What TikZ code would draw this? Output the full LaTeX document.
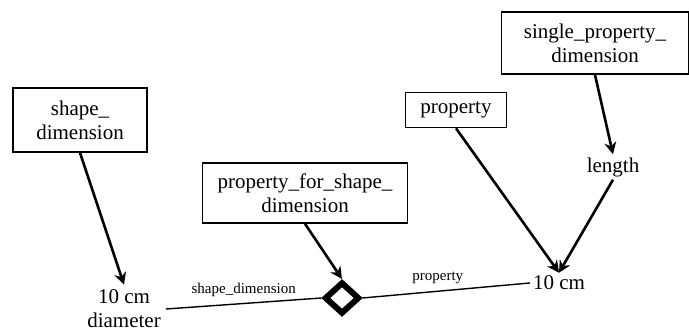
\documentclass[tikz,border=0pt]{standalone}
\usepackage{fontspec}
\setmainfont{Liberation Serif}
\usetikzlibrary{arrows.meta,shapes.geometric}

\begin{document}
\begin{tikzpicture}[
x=1pt,y=-1pt,
every node/.style={font=\fontsize{21}{24}\selectfont},
box/.style={draw=black,line width=1.6pt,align=center,inner sep=2pt},
val/.style={align=center,inner sep=3pt},
lbl/.style={font=\fontsize{15}{18}\selectfont,inner sep=1pt},
arr/.style={-{Stealth[length=12pt,width=12pt]},line width=2.6pt},
link/.style={line width=1.4pt},
agg/.style={diamond,draw=black,line width=6pt,minimum width=35pt,
minimum height=32pt,inner sep=0pt}
]
\useasboundingbox (0,0) rectangle (689,331);
% boxes
\node[box,minimum width=134pt,minimum height=64pt] (shapedim) at (80,120) {shape\_\\dimension};
\node[box,minimum width=205pt,minimum height=60pt] (propshape) at (305,193) {property\_for\_shape\_\\dimension};
\node[box,minimum width=101pt,minimum height=35pt] (prop) at (456,110) {property};
\node[box,minimum width=187pt,minimum height=62pt] (singleprop) at (595,43) {single\_property\_\\dimension};

% values
\node[val,inner sep=5pt] (diam) at (124,309) {10 cm\\diameter};
\node[val] (ten) at (559,283) {10 cm};
\node[val] (len) at (613,167) {length};
\node[agg] (dia) at (342,298) {};

\draw[arr] (shapedim.south) -- (diam.north);
\draw[arr] (propshape.south) -- (dia.north);
\draw[arr] (prop.south) -- (ten.north);
\draw[arr] (singleprop.south) -- (len.north);
\draw[arr] (len.south) -- (ten.north);
\draw[link] (diam.east) -- (dia.west) node[lbl,midway,above=5pt] {shape\_dimension};
\draw[link] (dia.east) -- (ten.west) node[lbl,pos=0.45,above=6pt] {property};
\end{tikzpicture}
\end{document}
